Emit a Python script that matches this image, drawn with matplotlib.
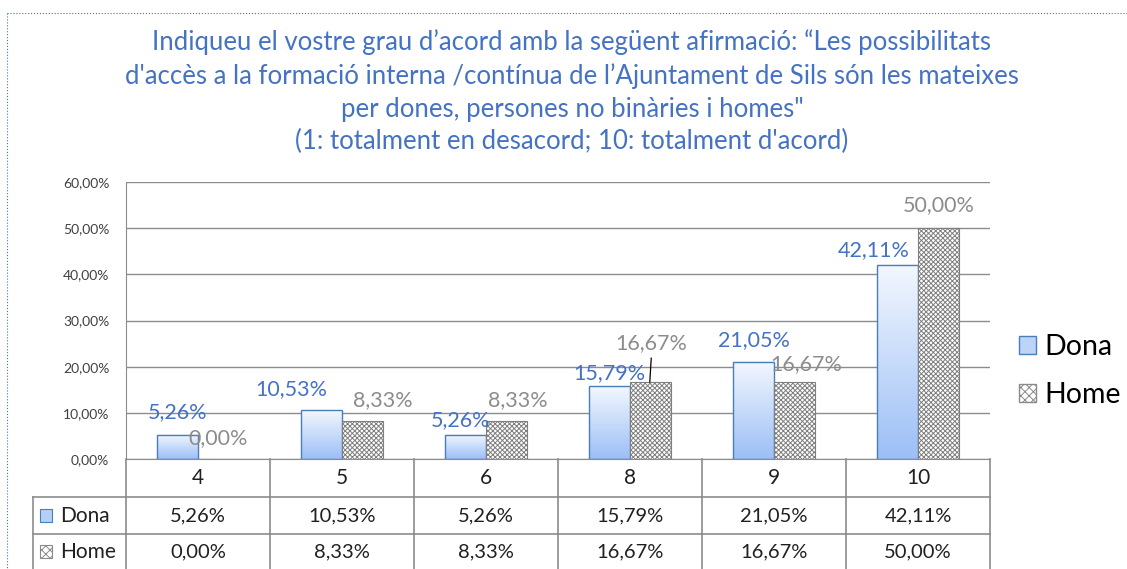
import numpy as np
import matplotlib
matplotlib.use("Agg")
import matplotlib.pyplot as plt
import matplotlib.transforms as mtransforms
from matplotlib.patches import Rectangle, Patch
from matplotlib.lines import Line2D
from matplotlib.colors import LinearSegmentedColormap

plt.rcParams['font.family'] = ['Lato', 'DejaVu Sans']
plt.rcParams['hatch.linewidth'] = 0.7

categories = ["4", "5", "6", "8", "9", "10"]
dona = [5.26, 10.53, 5.26, 15.79, 21.05, 42.11]
home = [0.00, 8.33, 8.33, 16.67, 16.67, 50.00]
series_names = ["Dona", "Home"]

title = ("Indiqueu el vostre grau d\u2019acord amb la seg\u00fcent afirmaci\u00f3: \u201cLes possibilitats\n"
         "d'acc\u00e8s a la formaci\u00f3 interna /cont\u00ednua de l\u2019Ajuntament de Sils s\u00f3n les mateixes\n"
         "per dones, persones no bin\u00e0ries i homes\"\n"
         "(1: totalment en desacord; 10: totalment d'acord)")

def pct(v):
    return ("%.2f%%" % v).replace(".", ",")

# label offsets in pixels (dx, dy) from the bar top to the text centre
dona_off = [(0, 23), (-30, 21), (-5, 15), (0, 13), (0, 22), (-24, 14)]
home_off = [(0, 21), (20, 20), (11, 20), (1, 39), (12, 18), (0, 23)]

BLUE = "#4472c4"
GRAY = "#8c8c8c"
W, H = 1127, 569

fig = plt.figure(figsize=(W / 100, H / 100), dpi=100)
ax = fig.add_axes([126 / W, 110 / H, 864 / W, 277 / H])

x = np.arange(len(categories))
bw = 0.285
grad = np.linspace(0, 1, 100).reshape(-1, 1)
cmap = LinearSegmentedColormap.from_list("g", ["#9cbff6", "#f3f7fe"])

# Dona bars with vertical gradient
for i in range(len(categories)):
    x0 = x[i] - bw
    ax.imshow(grad, extent=[x0, x0 + bw, 0, dona[i]], origin="lower", cmap=cmap,
              aspect="auto", zorder=2)
    ax.add_patch(Rectangle((x0, 0), bw, dona[i], fill=False, edgecolor="#4a7ebb",
                           lw=1.0, zorder=3))
# Home bars with pattern
ax.bar(x + bw / 2, home, bw, color="white", edgecolor="#7f7f7f", hatch="xxxxxxx",
       lw=0.8, zorder=3)

for i in range(len(categories)):
    dx, dy = dona_off[i]
    ax.annotate(pct(dona[i]), xy=(x[i] - bw / 2, dona[i]), xytext=(dx, dy),
                textcoords="offset pixels", ha="center", va="center",
                color=BLUE, fontsize=15.5)
    dx, dy = home_off[i]
    ax.annotate(pct(home[i]), xy=(x[i] + bw / 2, home[i]), xytext=(dx, dy),
                textcoords="offset pixels", ha="center", va="center",
                color=GRAY, fontsize=15.5)

# leader line for the displaced label
ax.annotate("", xy=(x[3] + bw / 2 - 0.005, home[3]), xytext=(x[3] + bw / 2 + 0.005, home[3] + 5.2),
            arrowprops=dict(arrowstyle="-", color="black", lw=0.9, shrinkA=0, shrinkB=0))

ax.set_xlim(-0.5, len(categories) - 0.5)
ax.set_ylim(0, 60)
ax.set_yticks(np.arange(0, 61, 10))
ax.set_yticklabels([pct(v) for v in np.arange(0, 61, 10)], fontsize=10, color="#404040")
ax.set_xticks([])
ax.tick_params(axis="y", length=0, pad=12)
ax.grid(axis="y", color="#8c8c8c", lw=1, zorder=0)
ax.set_axisbelow(True)
for s in ["top", "right"]:
    ax.spines[s].set_visible(False)
ax.spines["left"].set_color("#8c8c8c")
ax.spines["bottom"].set_color("#8c8c8c")

fig.text(572 / W, 1 - 92 / H, title, ha="center", va="center", color=BLUE,
         fontsize=18.5, linespacing=1.38)

# data table below the axis
tr = mtransforms.blended_transform_factory(ax.transData, fig.transFigure)
def fy(p):
    return 1 - p / H

lc = "#8c8c8c"
for b in np.arange(-0.5, len(categories), 1.0):
    fig.add_artist(Line2D([b, b], [fy(459), fy(575)], transform=tr, color=lc, lw=1.2))
for yy in [497, 534]:
    fig.add_artist(Line2D([33 / W, 990 / W], [fy(yy), fy(yy)], transform=fig.transFigure,
                          color=lc, lw=1.2))
fig.add_artist(Line2D([33 / W, 33 / W], [fy(497), fy(575)], transform=fig.transFigure,
                      color=lc, lw=1.2))

for i, c in enumerate(categories):
    fig.text(x[i], fy(478), c, transform=tr, ha="center", va="center", fontsize=15, color="#202020")
    fig.text(x[i], fy(515.5), pct(dona[i]), transform=tr, ha="center", va="center",
             fontsize=14.5, color="#202020")
    fig.text(x[i], fy(551.5), pct(home[i]), transform=tr, ha="center", va="center",
             fontsize=14.5, color="#202020")

fig.add_artist(Rectangle((40 / W, fy(522)), 12 / W, 13 / H, transform=fig.transFigure,
                         facecolor="#b5d0f8", edgecolor="#4a7ebb", lw=0.8))
fig.add_artist(Rectangle((40 / W, fy(558)), 12 / W, 13 / H, transform=fig.transFigure,
                         facecolor="white", edgecolor="#8a8a8a", hatch="xxxx", lw=0.8))
fig.text(60 / W, fy(515.5), series_names[0], ha="left", va="center", fontsize=15, color="#202020")
fig.text(60 / W, fy(551.5), series_names[1], ha="left", va="center", fontsize=15, color="#202020")

handles = [Patch(facecolor="#bcd4f8", edgecolor="#4a7ebb", label=series_names[0]),
           Patch(facecolor="white", edgecolor="#8a8a8a", hatch="xxxx", label=series_names[1])]
fig.legend(handles=handles, loc="center left", bbox_to_anchor=(1019 / W, fy(371)),
           frameon=False, fontsize=20.5, handlelength=0.6, handleheight=0.6,
           handletextpad=0.3, labelspacing=0.75, borderpad=0, borderaxespad=0)

# dotted chart border
fig.add_artist(Line2D([7 / W, 1], [fy(13), fy(13)], transform=fig.transFigure,
                      color=BLUE, lw=0.8, ls=":"))
fig.add_artist(Line2D([7 / W, 7 / W], [fy(13), 0], transform=fig.transFigure,
                      color=BLUE, lw=0.8, ls=":"))

fig.savefig("out.png", dpi=100)
